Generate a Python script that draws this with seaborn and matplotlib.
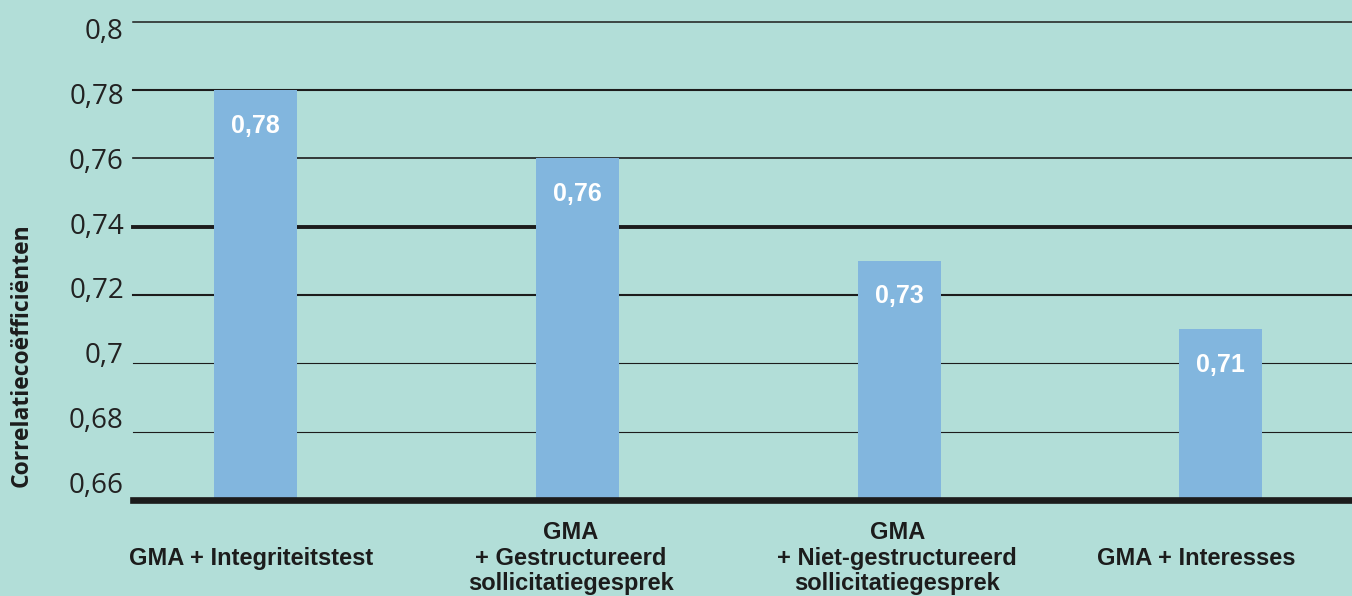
import matplotlib
matplotlib.use('Agg')
import matplotlib.pyplot as plt
import matplotlib.transforms as mtransforms
import seaborn as sns
import pandas as pd

# data
categories = ['GMA + Integriteitstest',
              'GMA\n+ Gestructureerd\nsollicitatiegesprek',
              'GMA\n+ Niet-gestructureerd\nsollicitatiegesprek',
              'GMA + Interesses']
values = [0.78, 0.76, 0.73, 0.71]
value_labels = ['0,78', '0,76', '0,73', '0,71']
yticks = [0.66, 0.68, 0.70, 0.72, 0.74, 0.76, 0.78, 0.80]
ytick_labels = ['0,66', '0,68', '0,7', '0,72', '0,74', '0,76', '0,78', '0,8']

BG = '#b2ded8'
BAR = '#82b6de'
INK = '#1c1c1c'

df = pd.DataFrame({'cat': categories, 'val': values})

fig = plt.figure(figsize=(13.52, 5.96), dpi=100, facecolor=BG)
ax = fig.add_axes([133 / 1352, 96 / 596, 1 - 133 / 1352, 500 / 596])
ax.set_facecolor(BG)

sns.barplot(data=df, x='cat', y='val', color=BAR, width=0.258,
            saturation=1, ax=ax, zorder=2)

ax.set_xlim(-0.382, 3.408)
ax.set_ylim(0.66, 0.8064)

# horizontal rules (widths differ as in the print)
grid_lw = [4.8, 0.8, 0.8, 1.5, 2.8, 1.2, 1.5, 1.1]
for yv, lw in zip(yticks, grid_lw):
    z = 3 if yv == yticks[0] else 1
    ax.axhline(yv, color=INK, lw=lw, zorder=z, clip_on=False)

for s in ax.spines.values():
    s.set_visible(False)

ax.set_yticks([])
ax.set_ylabel('')
ax.set_xlabel('')
ax.set_xticks(range(len(categories)))
ax.set_xticklabels(categories, fontsize=17, fontweight='bold', color=INK,
                   family='Liberation Sans', linespacing=1.15)
ax.tick_params(axis='x', length=0, pad=41.8)
# labels are not quite centred under the bars in the original
shift_px = [-5, -7, -2, -25]
for t, dx in zip(ax.get_xticklabels(), shift_px):
    t.set_verticalalignment('center')
    t.set_transform(t.get_transform() +
                    mtransforms.ScaledTranslation(dx / 100, 0, fig.dpi_scale_trans))

# value labels inside the bars
for i, (v, lab) in enumerate(zip(values, value_labels)):
    ax.annotate(lab, (i, v), xytext=(0, -25.5), textcoords='offset points',
                ha='center', va='center', color='white', fontsize=18,
                fontweight='bold', family='Liberation Sans', zorder=4)

# tick labels sit on their own scale, slightly tighter than the rules
ax2 = fig.add_axes(ax.get_position(), frameon=False)
ax2.set_xlim(0, 1)
ax2.set_ylim(0.65444, 0.80896)
ax2.set_xticks([])
ax2.set_yticks(yticks)
ax2.set_yticklabels(ytick_labels, fontsize=20, family='Open Sans', color='#222222')
ax2.tick_params(axis='y', length=0, pad=6.5)

fig.text(22 / 1352, 1 - 355 / 596, 'Correlatiecoëfficiënten', rotation=90,
         ha='center', va='center', fontsize=16.5, fontweight='bold',
         family='Open Sans', color=INK)

fig.savefig('out.png', dpi=100, facecolor=BG)
